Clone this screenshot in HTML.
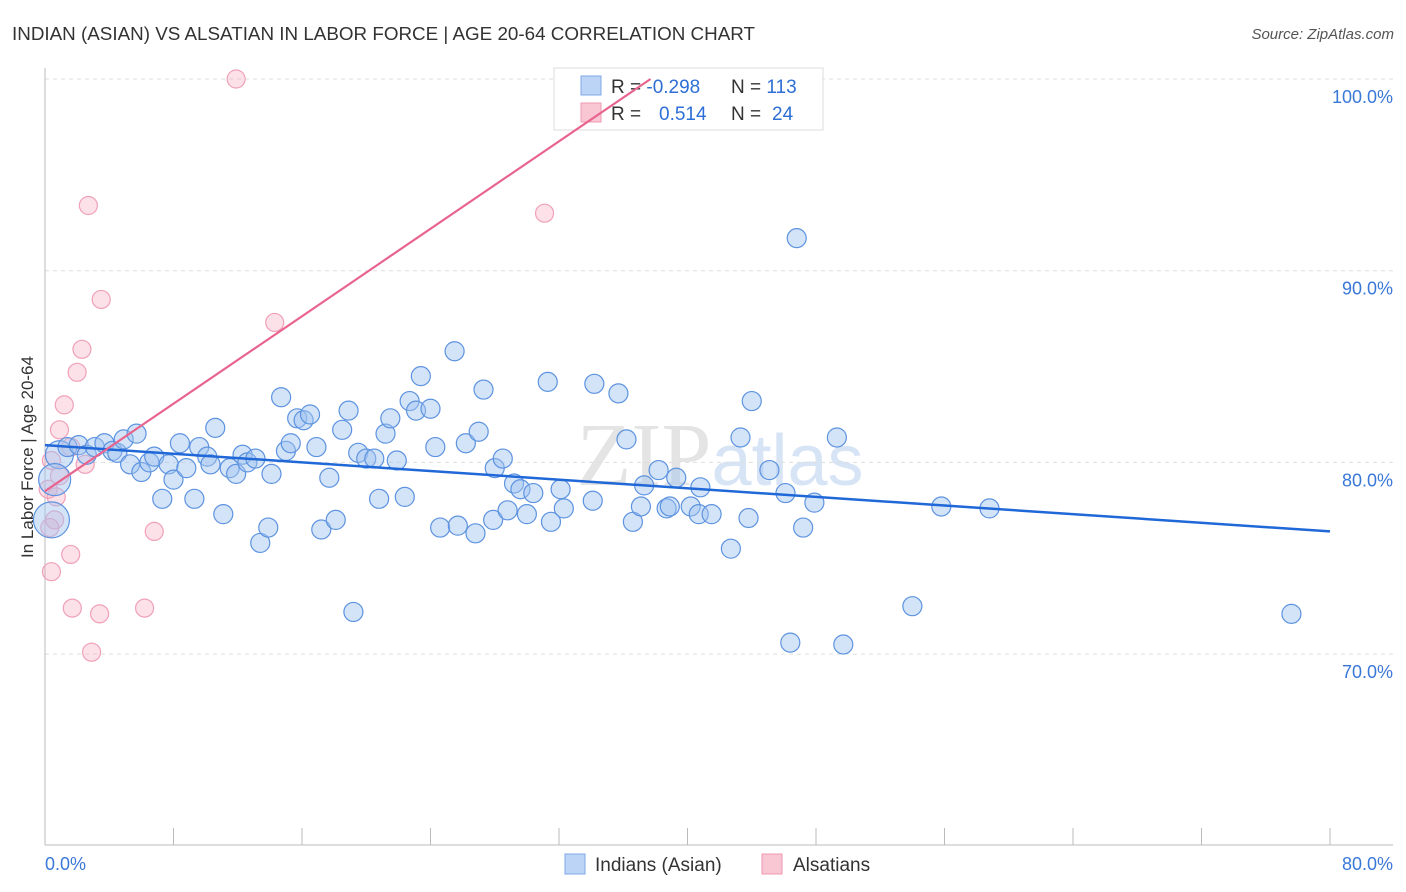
<!DOCTYPE html>
<html><head><meta charset="utf-8"><style>
body{margin:0;background:#fff;font-family:"Liberation Sans",sans-serif;}
svg{display:block}
</style></head><body>
<svg id="chart" width="1406" height="892">
<text x="12" y="40" font-size="18" fill="#333" textLength="743" lengthAdjust="spacingAndGlyphs">INDIAN (ASIAN) VS ALSATIAN IN LABOR FORCE | AGE 20-64 CORRELATION CHART</text>
<text x="1394" y="39" font-size="15" fill="#555" font-style="italic" text-anchor="end">Source: ZipAtlas.com</text>
<text x="720" y="485" font-size="90" fill="#e4e4e4" text-anchor="middle" font-family="Liberation Serif,serif">ZIP<tspan fill="#d6e4f5" font-family="Liberation Sans,sans-serif" font-size="72">atlas</tspan></text>
<g id="grid"></g><g id="axes"></g>
<g>
<rect x="554" y="68" width="269" height="62" fill="#fff" stroke="#ddd"/>
<rect x="581" y="76" width="20" height="19" fill="#bcd4f5" stroke="#7fa8e6"/>
<rect x="581" y="103" width="20" height="19" fill="#f9c6d4" stroke="#ee99b1"/>
<text x="611" y="93" font-size="19" fill="#333">R = <tspan fill="#2d6fd6">-0.298</tspan><tspan x="731">N = </tspan><tspan fill="#2d6fd6">113</tspan></text>
<text x="611" y="120" font-size="19" fill="#333">R = <tspan x="659" fill="#2d6fd6">0.514</tspan><tspan x="731">N = </tspan><tspan x="772" fill="#2d6fd6">24</tspan></text>
</g>
<g id="pts"></g><g id="lines"></g>
<text x="33" y="457" font-size="17" fill="#333" text-anchor="middle" transform="rotate(-90 33 457)">In Labor Force | Age 20-64</text>
<g>
<rect x="565" y="854" width="20" height="20" fill="#bcd4f5" stroke="#7fa8e6"/>
<text x="595" y="871" font-size="19" fill="#333">Indians (Asian)</text>
<rect x="762" y="854" width="20" height="20" fill="#f9c6d4" stroke="#ee99b1"/>
<text x="793" y="871" font-size="19" fill="#333">Alsatians</text>
</g>
</svg>
<script>
const blueX=[0.9,0.4,0.6,1.4,2.1,2.6,3.1,3.7,4.2,4.5,4.9,5.3,5.7,6.0,6.5,6.8,7.3,7.7,8.0,8.4,8.8,9.3,9.6,10.1,10.3,10.6,11.1,11.5,11.9,12.3,12.6,13.1,13.4,13.9,14.1,14.7,15.0,15.3,15.7,16.1,16.5,16.9,17.2,17.7,18.1,18.5,18.9,19.2,19.5,20.0,20.5,20.8,21.2,21.5,21.9,22.4,22.7,23.1,23.4,24.0,24.3,24.6,25.5,25.7,26.2,26.8,27.0,27.3,27.9,28.0,28.5,28.8,29.2,29.6,30.0,30.4,31.3,31.5,32.1,32.3,34.1,34.2,35.7,36.2,36.6,37.3,37.1,38.2,38.7,38.9,39.3,40.2,40.8,40.7,41.5,42.7,43.3,43.8,44.0,45.1,46.1,46.4,46.8,47.2,47.9,49.3,49.7,54.0,55.8,58.8,77.6];
const blueY=[80.4,77.0,79.1,80.8,80.9,80.4,80.8,81.0,80.6,80.5,81.2,79.9,81.5,79.5,80.0,80.3,78.1,79.9,79.1,81.0,79.7,78.1,80.8,80.3,79.9,81.8,77.3,79.7,79.4,80.4,80.0,80.2,75.8,76.6,79.4,83.4,80.6,81.0,82.3,82.2,82.5,80.8,76.5,79.2,77.0,81.7,82.7,72.2,80.5,80.2,80.2,78.1,81.5,82.3,80.1,78.2,83.2,82.7,84.5,82.8,80.8,76.6,85.8,76.7,81.0,76.3,81.6,83.8,77.0,79.7,80.2,77.5,78.9,78.6,77.3,78.4,84.2,76.9,78.6,77.6,78.0,84.1,83.6,81.2,76.9,78.8,77.7,79.6,77.6,77.7,79.2,77.7,78.7,77.3,77.3,75.5,81.3,77.1,83.2,79.6,78.4,70.6,91.7,76.6,77.9,81.3,70.5,72.5,77.7,77.6,72.1];
const blueR=[14,18,16];
const pinkX=[11.9,2.7,31.1,3.5,14.3,2.3,2.0,1.2,0.9,1.6,2.5,0.4,0.2,0.7,0.6,0.3,6.8,1.6,0.4,1.7,3.4,6.2,2.9,0.9];
const pinkY=[100.0,93.4,93.0,88.5,87.3,85.9,84.7,83.0,81.7,80.8,79.9,80.1,78.6,78.2,77.0,76.6,76.4,75.2,74.3,72.4,72.1,72.4,70.1,79.3];
const blueTrend=[[0,80.9],[80,76.4]];
const pinkTrend=[[0,78.5],[37.7,100]];
const yTicks=[100,90,80,70];
const yTickLabels=["100.0%","90.0%","80.0%","70.0%"];
const xTicks=[0,8,16,24,32,40,48,56,64,72,80];
const xLabels=[[0,"0.0%"],[80,"80.0%"]];

const NS="http://www.w3.org/2000/svg";
const X=v=>45+v*(1330-45)/80;
const Y=v=>79+(100-v)*19.17;
function mk(tag,attrs,parent){const e=document.createElementNS(NS,tag);for(const k in attrs)e.setAttribute(k,attrs[k]);document.getElementById(parent).appendChild(e);return e;}
yTicks.forEach((t,i)=>{
 const g=mk('line',{x1:45,x2:1393,y1:Y(t),y2:Y(t),stroke:'#ddd','stroke-dasharray':'4,4'},'grid');
 
 
 const l=mk('text',{x:1393,y:Y(t)+24,'font-size':18,fill:'#3a78d8','text-anchor':'end'},'grid');
 l.textContent=yTickLabels[i];
 
 
});
const ax=mk('line',{x1:45,x2:45,y1:68,y2:845,stroke:'#bbb'},'axes');


const bx=mk('line',{x1:45,x2:1393,y1:845,y2:845,stroke:'#bbb'},'axes');


xTicks.forEach(t=>{
 const tk=mk('line',{x1:X(t),x2:X(t),y1:828,y2:845,stroke:'#bbb'},'axes');
 
 
});
xLabels.forEach(([v,s])=>{
 const l=mk('text',{x:v===0?X(v):1393,y:870,'font-size':18,fill:'#3a78d8','text-anchor':v===0?'start':'end'},'axes');
 l.textContent=s;
 
 
});
pinkX.forEach((x,i)=>{
 const c=mk('circle',{cx:X(x),cy:Y(pinkY[i]),r:9,fill:'rgba(246,170,192,0.35)',stroke:'#f0a0b8','stroke-width':1.2},'pts');
 
 
});
blueX.forEach((x,i)=>{
 const c=mk('circle',{cx:X(x),cy:Y(blueY[i]),r:blueR[i]||9.5,fill:'rgba(160,195,240,0.45)',stroke:'#5d93e0','stroke-width':1.2},'pts');
 
 
});
const bl=mk('line',{x1:X(blueTrend[0][0]),y1:Y(blueTrend[0][1]),x2:X(blueTrend[1][0]),y2:Y(blueTrend[1][1]),stroke:'#2068d8','stroke-width':2.5},'lines');


const pl=mk('line',{x1:X(pinkTrend[0][0]),y1:Y(pinkTrend[0][1]),x2:X(pinkTrend[1][0]),y2:Y(pinkTrend[1][1]),stroke:'#e8648e','stroke-width':2.2},'lines');


</script>
</body></html>
